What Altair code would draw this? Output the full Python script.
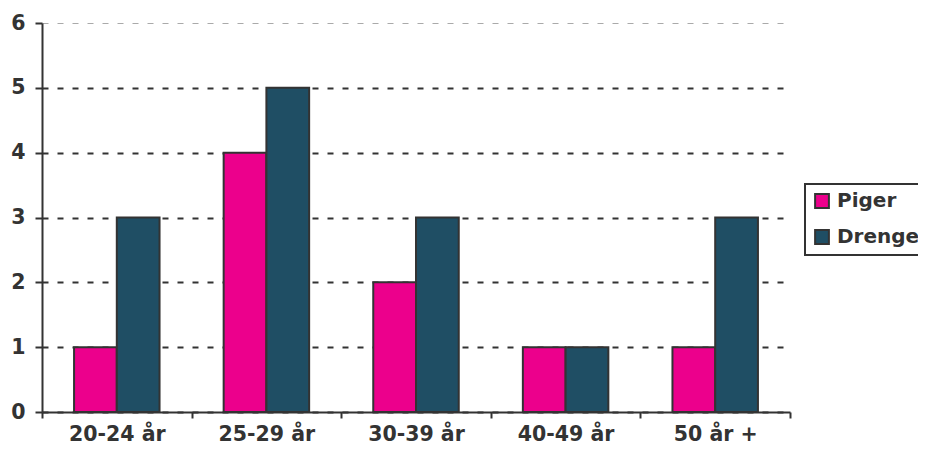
import altair as alt
import pandas as pd

categories = ["20-24 år", "25-29 år", "30-39 år", "40-49 år", "50 år +"]
series = ["Piger", "Drenge"]
piger = [1, 4, 2, 1, 1]
drenge = [3, 5, 3, 1, 3]
colors = ["#ec008c", "#1f4e64"]

rows = []
for c, p, d in zip(categories, piger, drenge):
    rows.append({"Alder": c, "Køn": "Piger", "Antal": p})
    rows.append({"Alder": c, "Køn": "Drenge", "Antal": d})
df = pd.DataFrame(rows)

FONT = "DejaVu Sans"
TXT = "#333333"

chart = alt.Chart(df).mark_bar(stroke="#333333", strokeWidth=2).encode(
    x=alt.X("Alder:N", sort=categories, title=None,
            scale=alt.Scale(paddingInner=0, paddingOuter=0),
            axis=alt.Axis(labelAngle=0, tickBand="extent", tickSize=6, tickWidth=2,
                          tickColor=TXT, domainColor=TXT, domainWidth=2,
                          labelFont=FONT, labelFontWeight="bold", labelFontSize=20.5,
                          labelColor=TXT, labelPadding=6, grid=False)),
    xOffset=alt.XOffset("Køn:N", sort=series,
                        scale=alt.Scale(paddingOuter=0.75, paddingInner=0)),
    y=alt.Y("Antal:Q", title=None,
            scale=alt.Scale(domain=[0, 6], nice=False),
            axis=alt.Axis(values=[0, 1, 2, 3, 4, 5, 6], tickSize=7, tickWidth=2,
                          tickColor=TXT, domainColor=TXT, domainWidth=2,
                          labelFont=FONT, labelFontWeight="bold", labelFontSize=20.5,
                          labelColor=TXT, labelPadding=10,
                          grid=True,
                          gridColor=alt.condition("datum.value == 6", alt.value("#aaaaaa"), alt.value("#333333")),
                          gridWidth=alt.condition("datum.value == 6", alt.value(1.2), alt.value(2.2)),
                          gridDash=[6, 9])),
    color=alt.Color("Køn:N", sort=series, title=None,
                    scale=alt.Scale(domain=series, range=colors),
                    legend=alt.Legend(orient="none", legendX=763, legendY=161,
                                      symbolType="square", symbolSize=190,
                                      symbolStrokeColor="#333333", symbolStrokeWidth=2,
                                      labelFont=FONT, labelFontWeight="bold",
                                      labelFontSize=20, labelColor=TXT,
                                      labelOffset=5, rowPadding=14,
                                      padding=7, strokeColor="#333333",
                                      fillColor="white")),
).properties(
    width=748, height=389,
    autosize=alt.AutoSizeParams(type="none"),
    padding={"left": 34, "top": 15, "right": 128, "bottom": 33},
).configure_view(stroke=None).configure_legend(strokeWidth=2)

chart.save("out.html", embed_options={"renderer": "svg", "actions": False})
